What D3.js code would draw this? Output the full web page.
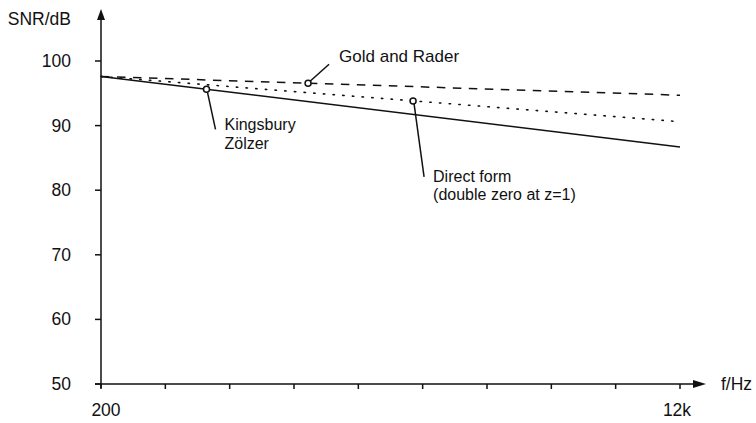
<!DOCTYPE html>
<html>
<head>
<meta charset="utf-8">
<script src="https://cdn.jsdelivr.net/npm/d3@7"></script>
<style>
  body { margin: 0; background: #fff; }
  text { font-family: "Liberation Sans", Arial, sans-serif; fill: #111; }
</style>
</head>
<body>
<svg id="chart" width="756" height="423"></svg>
<script>
// data

// frequency range (Hz) and SNR (dB) at both ends of each curve
var FREQ = [200, 12000];
var DIRECT = [97.6, 86.7];      // solid
var GOLD = [97.6, 94.7];        // dashed
var KINGSBURY = [97.6, 90.6];   // dotted

// y ticks
var YTICKS = [50, 60, 70, 80, 90, 100];
// x axis: 10 tick marks, only the ends labelled
var XTICK_COUNT = 10;
var XLABELS = ["200", "12k"];

// where the labels point (frequency of the marker)
var NOTES = [
  { lines: ["Gold and Rader"], f: 4420, curve: "gold" },
  { lines: ["Kingsbury", "Zölzer"], f: 2350, curve: "direct" },
  { lines: ["Direct form", "(double zero at z=1)"], f: 6560, curve: "kings" }
];

var svg = d3.select("#chart");

var x = d3.scaleLinear().domain(FREQ).range([101, 680]);
var y = d3.scaleLinear().domain([50, 100]).range([384, 61]);

var curves = {
  direct: { v: DIRECT, dash: null },
  gold: { v: GOLD, dash: "8.5,7.5" },
  kings: { v: KINGSBURY, dash: "1.4,8.3" }
};

// axes
var xTickVals = d3.range(XTICK_COUNT).map(function(i){
  return FREQ[0] + i * (FREQ[1] - FREQ[0]) / (XTICK_COUNT - 1);
});

svg.append("line")
  .attr("x1", 95).attr("y1", y(50))
  .attr("x2", 698).attr("y2", y(50))
  .style("stroke", "#111").style("stroke-width", 1.5);
svg.append("path")
  .attr("d", "M706," + y(50) + "L693," + (y(50) - 4) + "L693," + (y(50) + 4) + "Z")
  .style("fill", "#111");

svg.append("line")
  .attr("x1", x(FREQ[0])).attr("y1", y(50) + 4)
  .attr("x2", x(FREQ[0])).attr("y2", 16)
  .style("stroke", "#111").style("stroke-width", 1.5);
svg.append("path")
  .attr("d", "M" + x(FREQ[0]) + ",9L" + (x(FREQ[0]) - 4) + ",20L" + (x(FREQ[0]) + 4) + ",20Z")
  .style("fill", "#111");

// x ticks
svg.selectAll(".xt").data(xTickVals).enter().append("line")
  .attr("x1", function(d){ return x(d); })
  .attr("x2", function(d){ return x(d); })
  .attr("y1", y(50))
  .attr("y2", y(50) + 5)
  .style("stroke", "#111").style("stroke-width", 1.5);

svg.append("text")
  .attr("x", x(FREQ[0]) + 5).attr("y", 416)
  .attr("text-anchor", "middle").style("font-size", "17.5px")
  .text(XLABELS[0]);
svg.append("text")
  .attr("x", x(FREQ[1]) - 3).attr("y", 416)
  .attr("text-anchor", "middle").style("font-size", "17.5px")
  .text(XLABELS[1]);

svg.append("text")
  .attr("x", 721).attr("y", 390)
  .style("font-size", "17.5px")
  .text("f/Hz");

// y ticks
svg.selectAll(".yt").data(YTICKS).enter().append("line")
  .attr("x1", x(FREQ[0]) - 6)
  .attr("x2", x(FREQ[0]))
  .attr("y1", function(d){ return y(d); })
  .attr("y2", function(d){ return y(d); })
  .style("stroke", "#111").style("stroke-width", 1.5);

svg.selectAll(".yl").data(YTICKS).enter().append("text")
  .attr("x", 71)
  .attr("y", function(d){ return y(d) + 6; })
  .attr("text-anchor", "end")
  .style("font-size", "17.5px")
  .text(function(d){ return d; });

svg.append("text")
  .attr("x", 71).attr("y", 25)
  .attr("text-anchor", "end")
  .style("font-size", "17.5px")
  .text("SNR/dB");

// curves
var line = d3.line()
  .x(function(d){ return x(d[0]); })
  .y(function(d){ return y(d[1]); });

Object.keys(curves).forEach(function(k){
  var c = curves[k];
  svg.append("path")
    .datum(FREQ.map(function(f, i){ return [f, c.v[i]]; }))
    .attr("d", line)
    .style("fill", "none")
    .style("stroke", "#111")
    .style("stroke-width", k == "kings" ? 1.6 : 1.5)
    .style("stroke-linecap", k == "kings" ? "round" : "butt")
    .style("stroke-dasharray", c.dash);
});

// value of a curve at a frequency
var valueAt = function(k, f){
  var v = curves[k].v;
  return v[0] + (v[1] - v[0]) * (f - FREQ[0]) / (FREQ[1] - FREQ[0]);
};

// annotation leaders and labels
var leader = [
  { dx1: 2, dy1: -2, dx2: 21, dy2: -19, tx: 31, ty: -21 },
  { dx1: 1, dy1: 3, dx2: 9, dy2: 40, tx: 18, ty: 41 },
  { dx1: 1, dy1: 3, dx2: 11, dy2: 76, tx: 20, ty: 81 }
];

NOTES.forEach(function(n, i){
  var cx = x(n.f), cy = y(valueAt(n.curve, n.f));
  var l = leader[i];
  svg.append("line")
    .attr("x1", cx + l.dx1).attr("y1", cy + l.dy1)
    .attr("x2", cx + l.dx2).attr("y2", cy + l.dy2)
    .style("stroke", "#111").style("stroke-width", 1.5);
  svg.append("circle")
    .attr("cx", cx).attr("cy", cy).attr("r", 3)
    .style("fill", "#fff").style("stroke", "#111").style("stroke-width", 1.5);
  // one text per line
  n.lines.forEach(function(s, j){
    svg.append("text")
      .attr("x", cx + l.tx)
      .attr("y", cy + l.ty + j * 18.5)
      .style("font-size", n.lines.length > 1 ? "16px" : "17px")
      .text(s);
  });
});
</script>
</body>
</html>
